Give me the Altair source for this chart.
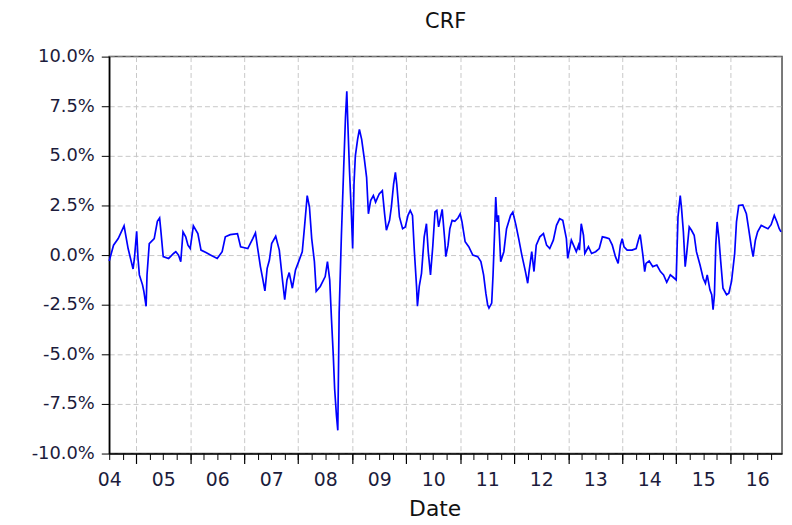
import altair as alt
import pandas as pd

# months since Jul-2004 (fractional) and CRF return in %
months = [0.0, 0.96, 2.0, 3.3, 4.2, 4.9, 5.3, 5.6, 6.1, 6.4, 6.7, 7.4, 7.7, 8.2, 8.4, 8.9,
          10.0, 10.7, 11.2, 11.5, 12.0, 13.2, 14.3, 14.8, 15.4, 15.9, 16.4, 17.0, 17.5, 18.0,
          18.7, 19.7, 20.4, 21.5, 22.5, 24.0, 25.1, 25.8, 26.9, 28.5, 29.2, 30.8, 31.9, 32.5,
          33.0, 33.6, 34.1, 34.6, 35.1,
          35.6, 36.1, 37.0, 37.8, 38.5, 39.0, 39.5, 40.0, 40.7, 41.4, 42.1, 42.9, 43.4, 44.0,
          44.5, 45.0, 45.6, 46.0, 46.9, 48.0, 48.5, 49.0, 49.4, 49.8, 50.1, 50.5, 50.8, 51.1,
          51.6, 52.1, 52.5, 52.8, 53.0, 53.4, 53.8, 54.1, 54.4, 54.7, 55.2, 55.6, 56.1, 56.7,
          57.2, 57.6, 58.1, 58.7, 59.2, 60.0, 60.7, 61.2, 61.6, 62.3, 62.7, 63.2, 63.6, 63.9,
          64.5, 65.2, 65.8, 66.4, 66.9, 67.4, 67.8, 68.3, 68.5, 68.9, 69.4, 70.0, 70.5, 70.9,
          71.4, 71.9, 72.4, 72.8,
          73.2, 74.0, 74.6, 74.8, 75.3, 75.7, 76.2, 76.8, 77.5, 78.0, 78.4, 79.1, 79.9, 80.8,
          81.9, 82.6, 83.2, 83.7, 84.1, 84.4, 85.0, 85.3, 85.7, 85.9, 86.2, 86.5, 87.0, 87.7,
          88.3, 89.2, 89.7, 90.4, 91.0, 91.7, 92.5, 93.0, 93.3, 93.9, 94.4, 94.9, 95.7, 96.5,
          97.2, 97.9, 98.7, 99.4, 100.1, 100.8, 101.6, 101.9, 102.7, 103.8, 104.3, 104.5, 104.9,
          105.4, 105.7, 106.5, 107.2, 108.1, 108.9, 109.6,
          110.4, 111.1, 111.8, 112.5, 113.1, 113.6, 114.0, 114.4, 115.1, 116.2, 117.1, 117.7,
          118.0, 118.6, 119.0, 119.3, 120.0, 120.8, 121.7, 122.5, 123.2, 123.9, 124.7, 125.4,
          126.0, 126.4, 126.9, 127.2, 127.6, 128.0, 128.3, 128.9, 129.4, 130.0, 130.5, 131.3,
          132.0, 132.5, 132.9, 133.5, 133.9, 134.2, 134.5, 134.8, 135.1, 135.5, 135.9, 136.4,
          137.2, 137.7, 138.3, 139.0, 139.4, 139.9, 140.8, 141.6, 142.1, 142.7, 143.1, 143.6,
          144.1, 144.9, 145.6, 146.4, 147.1, 147.8, 148.4, 148.9, 149.3]

crf = [-0.3, 0.5, 0.83, 1.47, 0.33, -0.33, -0.7, -0.17, 1.2, -0.17, -1.0, -1.5, -1.83, -2.58, -1.0, 0.58,
       0.83, 1.7, 1.87, 1.17, -0.08, -0.17, 0.08, 0.17, 0.0, -0.33, 1.17, 0.92, 0.5, 0.33,
       1.47, 1.08, 0.25, 0.13, 0.0, -0.17, 0.17, 0.92, 1.03, 1.08, 0.42, 0.33, 0.83, 1.12,
       0.33, -0.58, -1.17, -1.8, -0.67,
       -0.25, 0.58, 0.95, 0.25, -1.25, -2.25, -1.25, -0.88, -1.67, -0.75, -0.33, 0.17, 1.42, 3.0,
       2.42, 0.83, -0.33, -1.83, -1.58, -1.08, -0.33, -1.25, -3.25, -5.08, -6.75, -8.08, -8.83, -2.92,
       1.0, 4.33, 6.92, 8.25, 6.83, 4.25, 2.17, 0.33, 3.58, 5.0, 5.83, 6.33, 5.83, 4.83,
       3.92, 2.08, 2.75, 3.0, 2.67, 3.08, 3.25, 2.08, 1.25, 1.75, 2.42, 3.58, 4.17, 3.58,
       1.92, 1.33, 1.42, 2.0, 2.25, 2.0, 0.25, -1.58, -2.58, -1.58, -0.92, 0.92, 1.58, 0.17,
       -1.0, 0.42, 2.17, 2.25,
       1.42, 2.3, 0.67, -0.08, 0.5, 1.33, 1.75, 1.7, 1.87, 2.08, 1.67, 0.67, 0.42, 0.0,
       -0.08, -0.33, -1.0, -1.92, -2.5, -2.67, -2.42, -1.0, 1.5, 2.92, 1.67, 2.0, -0.33, 0.17,
       1.33, 2.0, 2.17, 1.5, 0.83, 0.0, -0.83, -1.42, -0.83, 0.17, -0.83, 0.5, 0.92, 1.08,
       0.5, 0.33, 0.75, 1.5, 1.83, 1.75, 0.83, -0.17, 0.75, 0.17, 0.5, 0.25, 1.58,
       1.0, 0.08, 0.42, 0.08, 0.17, 0.33, 0.92,
       0.88, 0.83, 0.5, -0.08, -0.42, 0.5, 0.83, 0.42, 0.25, 0.25, 0.33, 0.83,
       1.03, 0.0, -0.83, -0.42, -0.3, -0.58, -0.5, -0.83, -1.0, -1.37, -1.0, -1.13,
       -1.25, 1.92, 3.0, 2.33, 1.17, -0.58, 0.0, 1.42, 1.25, 1.0, 0.17, -0.5,
       -1.17, -1.42, -1.0, -1.75, -2.0, -2.75, -2.0, 0.5, 1.67, 0.83, -0.33, -1.67,
       -2.0, -1.92, -1.33, 0.08, 1.67, 2.5, 2.53, 2.08, 1.33, 0.42, -0.08, 0.75,
       1.17, 1.5, 1.42, 1.33, 1.53, 2.0, 1.67, 1.33, 1.17]

y_ticks = [-10, -7.5, -5, -2.5, 0, 2.5, 5, 7.5, 10]
year_starts = list(range(2005, 2017))
year_label_pos = [y + 0.5 for y in range(2004, 2017)]
quarter_ticks = [2004.5 + 0.25 * i for i in range(50)]

df = pd.DataFrame({"month": months, "crf": crf})
df["year"] = 2004.5 + df["month"] / 12.0

FONT = "DejaVu Sans"
xscale = alt.Scale(domain=[2004.5, 2016.96], nice=False, zero=False)
yscale = alt.Scale(domain=[-10, 10], nice=False, zero=False)

y_axis = alt.Axis(
    values=y_ticks,
    labelExpr="(datum.value < 0 ? '-' : '') + format(abs(datum.value), '.1f') + '%'",
    title=None, grid=True, gridDash=[5, 3], gridColor="#c8c8c8", gridWidth=1,
    tickSize=8, tickColor="#000000", labelPadding=7, labelFontSize=18,
    labelFont=FONT, labelColor="#1c1c3c", domainColor="#000000", domainWidth=1.5,
)

y_enc = alt.Y("crf:Q", scale=yscale, axis=y_axis)

major = alt.Chart(df).mark_line(opacity=0).encode(
    x=alt.X("year:Q", scale=xscale, axis=alt.Axis(
        orient="bottom", values=year_starts, labels=False, grid=True,
        gridDash=[5, 3], gridColor="#c8c8c8", gridWidth=1, ticks=True, tickSize=10,
        tickColor="#000000", tickWidth=1.2, domain=False, title=None)),
    y=y_enc,
)

minor = alt.Chart(df).mark_line(opacity=0).encode(
    x=alt.X("year:Q", scale=xscale, axis=alt.Axis(
        orient="bottom", values=quarter_ticks, labels=False, grid=False,
        ticks=True, tickSize=6, tickColor="#000000", tickWidth=1,
        domain=False, title=None)),
    y=y_enc,
)

line = alt.Chart(df).mark_line(color="#0000ff", strokeWidth=1.7).encode(
    x=alt.X("year:Q", scale=xscale, axis=alt.Axis(
        orient="bottom", values=year_label_pos,
        labelExpr="format(floor(datum.value) - 2000, '02d')",
        ticks=False, tickSize=0, grid=False, domain=True, domainColor="#000000",
        domainWidth=1.5, labelPadding=17, labelFlush=False, labelOverlap=False,
        labelFontSize=19, labelFont=FONT, labelColor="#1c1c3c",
        title="Date", titleFont=FONT, titleFontSize=22, titleFontWeight="normal",
        titleColor="#111111", titleX=328, titleY=45, titleAlign="center",
        titleBaseline="top")),
    y=y_enc,
)

chart = alt.layer(major, minor, line).resolve_axis(x="independent").properties(
    width=678, height=400,
    autosize=alt.AutoSizeParams(type="none"),
    padding={"left": 102, "top": 47, "right": 2, "bottom": 68},
    title=alt.TitleParams("CRF", font=FONT, fontSize=21, fontWeight="normal",
                          color="#111111", offset=16, anchor="middle"),
).configure_view(stroke="#4d4d4d", strokeWidth=1.5)

chart.save("out.html", embed_options={"renderer": "svg", "actions": False})
